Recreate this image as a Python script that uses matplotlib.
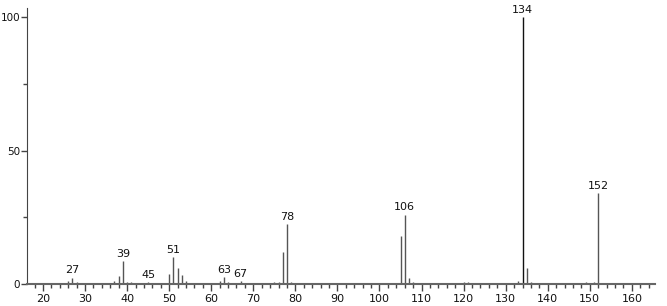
import matplotlib
matplotlib.use('Agg')
import matplotlib.pyplot as plt
import numpy as np

# Spectre de masse : m/z et intensités relatives (%)
mz = [26, 27, 28, 29, 31, 32, 37, 38, 39, 40, 41, 42, 44, 45, 46, 50, 51, 52, 53, 54, 55, 57,
      61, 62, 63, 64, 65, 66, 67, 68, 74, 75, 76, 77, 78, 79, 89, 91, 92, 104, 105, 106, 107, 108,
      119, 120, 121, 123, 133, 134, 135, 136, 141, 142, 148, 149, 150, 151, 152, 153]
intensite = [1.0, 2.4, 0.6, 0.4, 0.3, 0.3, 1.0, 3.0, 8.6, 0.8, 0.6, 0.4, 0.5, 0.8, 0.3, 3.7, 10.0, 6.0, 3.5, 1.0, 0.5, 0.3,
             0.4, 1.0, 2.7, 0.8, 0.5, 0.5, 1.2, 0.3, 0.4, 0.6, 0.8, 12.0, 22.4, 0.8, 0.3, 0.4, 0.3, 0.4, 18.0, 26.0, 2.4, 0.6,
             0.3, 0.6, 0.6, 0.4, 1.0, 100.0, 6.1, 0.7, 0.4, 0.5, 0.4, 0.6, 0.5, 0.6, 34.0, 0.4]

# Pics annotés
pics_annotes = [27, 39, 45, 51, 63, 67, 78, 106, 134, 152]

fig = plt.figure(figsize=(6.67, 3.06), dpi=100)
ax = fig.add_axes([27 / 667, 22 / 306, 628 / 667, 276 / 306])

# Trace les pics
for m, h in zip(mz, intensite):
    couleur = '#111111' if h == 100.0 else '#555555'
    ax.vlines(m, 0, h, color=couleur, linewidth=1.0)

# Étiquettes au-dessus des pics
for m in pics_annotes:
    h = intensite[mz.index(m)]
    ax.text(m, h + 0.8, str(m), ha='center', va='bottom', fontsize=8, color='#111111')

ax.set_xlim(16.2, 165.5)
ax.set_ylim(0, 103.4)

ax.set_xticks(np.arange(20, 161, 10))
ax.set_xticks(np.arange(18, 166, 2), minor=True)
ax.set_yticks([0, 50, 100])
ax.set_yticks([25, 75], minor=True)

ax.tick_params(axis='x', which='major', direction='out', length=5, width=1, colors='#444444',
               labelsize=8, labelcolor='#111111', pad=2)
ax.tick_params(axis='y', which='major', direction='out', length=4, width=1, colors='#444444',
               labelsize=7.5, labelcolor='#111111', pad=1)
ax.tick_params(axis='both', which='minor', direction='out', length=3, width=1, colors='#444444')

ax.spines['top'].set_visible(False)
ax.spines['right'].set_visible(False)
ax.spines['left'].set_color('#444444')
ax.spines['bottom'].set_color('#666666')
ax.spines['bottom'].set_linewidth(1.5)

fig.savefig('out.png', dpi=100)
